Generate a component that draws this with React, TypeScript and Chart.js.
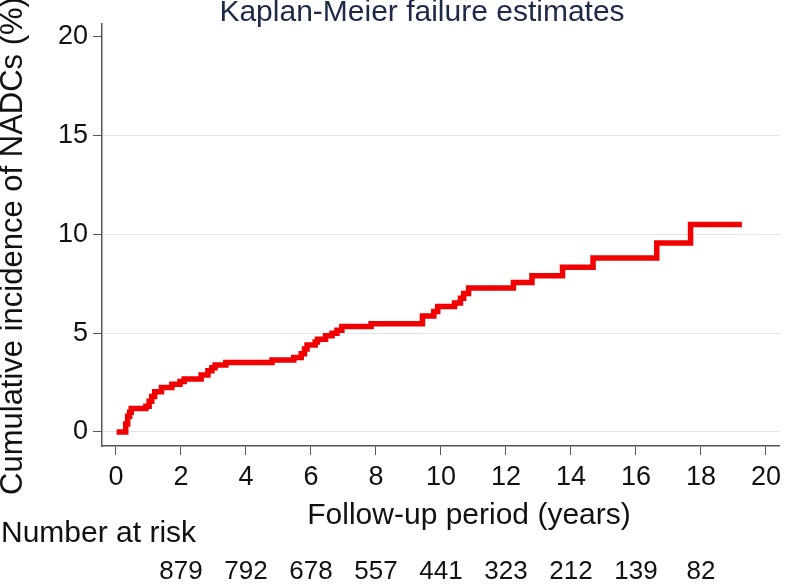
import React, { useEffect, useRef } from "react";
import { Chart, registerables } from "chart.js";

Chart.register(...registerables);

const chartTitle = "Kaplan-Meier failure estimates";
const yAxisTitle = "Cumulative incidence of NADCs (%)";
const xAxisTitle = "Follow-up period (years)";
const riskLabel = "Number at risk";

const times = [
  0.02, 0.3, 0.36, 0.42, 0.47, 0.92, 1.02, 1.1, 1.19, 1.4, 1.72, 1.97, 2.1, 2.62, 2.83, 2.95, 3.05, 3.38,
  4.8, 5.47, 5.7, 5.8, 5.88, 6.13, 6.2, 6.45, 6.65, 6.8, 6.95, 7.85, 9.43, 9.78, 9.9, 10.42, 10.6, 10.7,
  10.85, 12.23, 12.8, 13.74, 14.68, 16.64, 17.68, 19.26,
];
const incidence = [
  0, 0.4, 0.8, 1.0, 1.19, 1.3, 1.55, 1.8, 2.03, 2.25, 2.42, 2.55, 2.68, 2.88, 3.1, 3.25, 3.39, 3.52,
  3.64, 3.77, 3.96, 4.2, 4.4, 4.55, 4.69, 4.87, 5.0, 5.15, 5.33, 5.47, 5.87, 6.1, 6.35, 6.52, 6.77, 7.0,
  7.28, 7.56, 7.9, 8.33, 8.8, 9.56, 10.49, 10.49,
];

const xTicks = [0, 2, 4, 6, 8, 10, 12, 14, 16, 18, 20];
const yTicks = [0, 5, 10, 15, 20];
const yGridValues = [0, 5, 10, 15];

const riskTimes = [2, 4, 6, 8, 10, 12, 14, 16, 18];
const riskCounts = [879, 792, 678, 557, 441, 323, 212, 139, 82];

const FONT = '"Liberation Sans", Arial, sans-serif';

const textPlugin = {
  id: "kmTexts",
  afterDraw(chart: any) {
    const ctx = chart.ctx;
    const xs = chart.scales.x;
    ctx.save();
    ctx.textAlign = "center";
    ctx.textBaseline = "middle";

    ctx.fillStyle = "#1c2a48";
    ctx.font = `30px ${FONT}`;
    ctx.fillText(chartTitle, 422, 13);

    ctx.fillStyle = "#111111";
    ctx.save();
    ctx.translate(13, 246);
    ctx.rotate(-Math.PI / 2);
    ctx.font = `31px ${FONT}`;
    ctx.fillText(yAxisTitle, 0, 0);
    ctx.restore();

    ctx.font = `30px ${FONT}`;
    ctx.fillText(xAxisTitle, 469, 516);

    ctx.textAlign = "left";
    ctx.fillText(riskLabel, 1, 534);

    ctx.textAlign = "center";
    ctx.font = `26px ${FONT}`;
    riskTimes.forEach((t, i) => {
      ctx.fillText(String(riskCounts[i]), xs.getPixelForValue(t), 572);
    });
    ctx.restore();
  },
};

export default function App() {
  const ref = useRef<HTMLCanvasElement | null>(null);

  useEffect(() => {
    if (!ref.current) return;
    const points = times.map((t, i) => ({ x: t, y: incidence[i] }));
    const chart = new Chart(ref.current, {
      type: "line",
      data: {
        datasets: [
          {
            data: points,
            borderColor: "#f00000",
            borderWidth: 5.5,
            borderJoinStyle: "miter",
            stepped: "before",
            pointRadius: 0,
            fill: false,
          },
        ],
      },
      options: {
        animation: false,
        responsive: false,
        devicePixelRatio: 1,
        layout: { padding: { top: 24, right: 2, left: 0, bottom: 0 } },
        plugins: {
          legend: { display: false },
          tooltip: { enabled: false },
          title: { display: false },
        },
        scales: {
          x: {
            type: "linear",
            min: -0.43,
            max: 20.43,
            afterBuildTicks: (scale: any) => {
              scale.ticks = xTicks.map((v) => ({ value: v }));
            },
            afterFit: (scale: any) => {
              scale.height = 138;
            },
            grid: {
              drawOnChartArea: false,
              drawTicks: true,
              tickLength: 9,
              tickColor: "#555555",
              tickWidth: 1,
            },
            border: { display: true, color: "#555555", width: 1.5 },
            ticks: {
              autoSkip: false,
              maxRotation: 0,
              padding: 6,
              color: "#111111",
              font: { family: FONT, size: 27 },
            },
          },
          y: {
            type: "linear",
            min: -0.71,
            max: 20.64,
            afterBuildTicks: (scale: any) => {
              scale.ticks = yTicks.map((v) => ({ value: v }));
            },
            afterFit: (scale: any) => {
              scale.width = 102;
            },
            grid: {
              drawTicks: true,
              tickLength: 9,
              tickColor: "#555555",
              tickWidth: 1,
              color: (c: any) =>
                c.tick && yGridValues.includes(c.tick.value) ? "#e4e4e4" : "rgba(0,0,0,0)",
              lineWidth: 1,
            },
            border: { display: true, color: "#555555", width: 1.5 },
            ticks: {
              autoSkip: false,
              padding: 5,
              color: "#111111",
              font: { family: FONT, size: 27 },
            },
          },
        },
      },
      plugins: [textPlugin],
    });
    return () => chart.destroy();
  }, []);

  return (
    <div style={{ position: "absolute", left: 0, top: 0, width: 787, height: 584, background: "#fff" }}>
      <canvas ref={ref} width={787} height={584} style={{ display: "block" }} />
    </div>
  );
}
